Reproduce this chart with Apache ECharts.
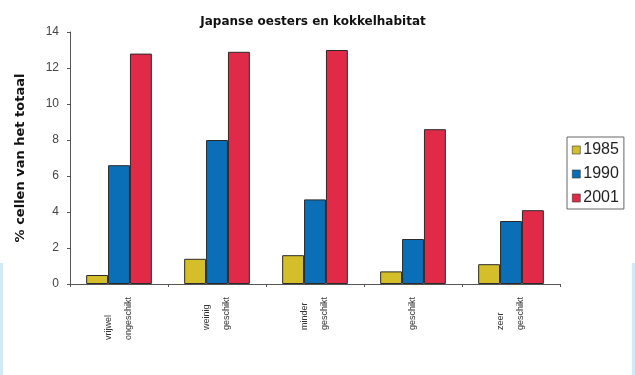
<!DOCTYPE html>
<html><head><meta charset="utf-8">
<script src="https://cdn.jsdelivr.net/npm/echarts@6/dist/echarts.min.js"></script>
<style>html,body{margin:0;padding:0;background:#fff}#c{width:635px;height:375px}</style>
</head><body><div id="c"></div>
<script>
const categories = ["vrijwel\nongeschikt", "weinig\ngeschikt", "minder\ngeschikt", "geschikt", "zeer\ngeschikt"];
const years = ["1985", "1990", "2001"];
const v1985 = [0.5, 1.4, 1.6, 0.7, 1.1];
const v1990 = [6.6, 8.0, 4.7, 2.5, 3.5];
const v2001 = [12.8, 12.9, 13.0, 8.6, 4.1];
const colors = ["#D4BE2A", "#0A6FB6", "#E02A48"];
const font = "Liberation Sans, Arial, sans-serif";
const wide = "DejaVu Sans, sans-serif";
const chart = echarts.init(document.getElementById('c'));
const mk = (name, data, color) => ({
  name, type: 'bar', data, barGap: '0%', barCategoryGap: '33%',
  itemStyle: {color, borderColor: '#2a2a2a', borderWidth: 1},
  emphasis: {disabled: true}
});
chart.setOption({
  animation: false,
  title: {text: 'Japanse oesters en kokkelhabitat', left: 308, top: 11, textAlign: 'center',
    textStyle: {fontFamily: wide, fontSize: 12, fontWeight: 'bold', color: '#111'}},
  legend: {orient: 'vertical', left: 567, top: 137, itemWidth: 8, itemHeight: 8, itemGap: 8,
    padding: [5, 5, 3, 5], borderColor: '#666', borderWidth: 1,
    textStyle: {fontFamily: font, fontSize: 16, color: '#222', padding: [0, 0, 0, -2]},
    data: years.map(y => ({name: y, icon: 'rect', itemStyle: {borderColor: '#333', borderWidth: 0.6}}))},
  grid: {left: 70, right: 75, top: 32, bottom: 91, containLabel: false},
  xAxis: {type: 'category', data: categories,
    axisLine: {lineStyle: {color: '#555', width: 1}},
    axisTick: {show: true, length: 3, lineStyle: {color: '#555'}},
    axisLabel: {rotate: 90, interval: 0, margin: 13,
      formatter: v => v.split('\n').map(s => '{a|' + s + '}').join('\n'),
      rich: {a: {align: 'left', fontFamily: font, fontSize: 9, color: '#333', lineHeight: 20}}}},
  yAxis: {type: 'value', min: 0, max: 14, interval: 2,
    name: '% cellen van het totaal', nameLocation: 'middle', nameGap: 43, nameRotate: 90,
    nameTextStyle: {fontFamily: wide, fontSize: 13, fontWeight: 'bold', color: '#111'},
    axisLine: {show: true, lineStyle: {color: '#555', width: 1}},
    axisTick: {show: true, length: 3, lineStyle: {color: '#555'}},
    splitLine: {show: false},
    axisLabel: {margin: 11, fontFamily: font, fontSize: 12, color: '#444'}},
  series: [mk(years[0], v1985, colors[0]), mk(years[1], v1990, colors[1]), mk(years[2], v2001, colors[2])],
  graphic: [
    {type: 'rect', left: 0, top: 263, shape: {width: 3, height: 112}, style: {fill: '#D2EAF6'}},
    {type: 'rect', left: 632, top: 263, shape: {width: 3, height: 112}, style: {fill: '#D2EAF6'}}
  ]
});
</script></body></html>
